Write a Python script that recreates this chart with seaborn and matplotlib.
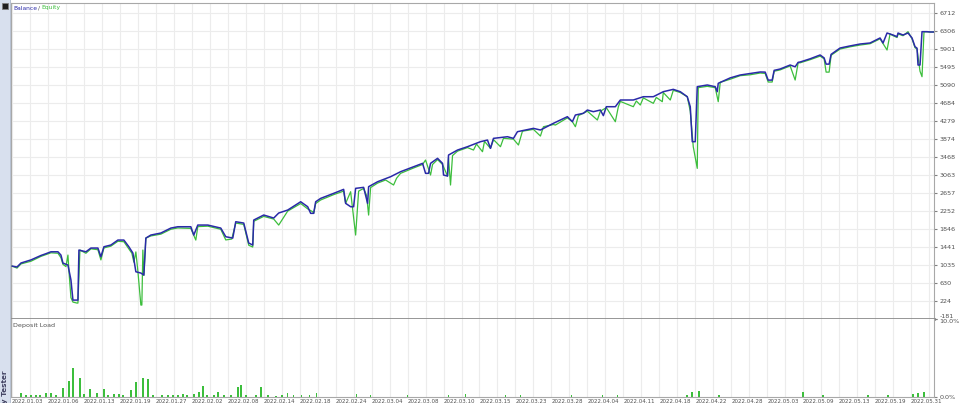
import matplotlib
matplotlib.use("Agg")
import matplotlib.pyplot as plt
import seaborn as sns
import pandas as pd
from matplotlib.patches import Rectangle

# Balance curve (deal index -> account value), 10 points per row
bal_x = [0, 5, 9, 19, 29, 34, 39, 46, 49, 51,
         56, 59, 61, 66, 67, 74, 79, 86, 89, 92,
         99, 106, 112, 117, 121, 124, 129, 132, 134, 139,
         149, 159, 166, 179, 182, 186, 196, 209, 214, 221,
         224, 232, 237, 241, 242, 252, 262, 267, 276, 289,
         296, 299, 302, 304, 309, 322, 332, 334, 339, 342,
         344, 352, 356, 357, 366, 379, 389, 402, 411, 414,
         417, 419, 426, 431, 432, 436, 437, 446, 456, 469,
         476, 479, 482, 496, 502, 506, 522, 529, 542, 556,
         561, 564, 572, 576, 582, 589, 592, 595, 604, 609,
         622, 632, 642, 652, 662, 669, 676, 679, 681, 684,
         686, 696, 704, 706, 707, 719, 729, 739, 749, 754,
         757, 761, 763, 769, 779, 784, 787, 789, 799, 809,
         813, 815, 818, 820, 829, 839, 849, 859, 869, 872,
         874, 876, 882, 886, 887, 892, 897, 901, 904, 906,
         907, 909, 911, 916, 919, 923]
bal_y = [1011, 990, 1080, 1150, 1250, 1290, 1333, 1333, 1259, 1079,
         1034, 700, 245, 245, 1372, 1333, 1417, 1417, 1221, 1446,
         1485, 1597, 1597, 1446, 1304, 883, 854, 809, 1642, 1710,
         1755, 1867, 1897, 1897, 1710, 1935, 1935, 1867, 1672, 1642,
         2010, 1980, 1530, 1485, 2048, 2161, 2093, 2206, 2273, 2460,
         2348, 2199, 2199, 2460, 2536, 2649, 2739, 2424, 2348, 2348,
         2762, 2784, 2424, 2799, 2911, 3024, 3137, 3249, 3325, 3100,
         3100, 3325, 3438, 3325, 3062, 3039, 3512, 3625, 3700, 3813,
         3850, 3663, 3888, 3925, 3888, 4038, 4113, 4076, 4227, 4376,
         4263, 4414, 4452, 4526, 4489, 4526, 4400, 4601, 4601, 4752,
         4752, 4826, 4826, 4939, 4992, 4939, 4826, 4601, 3813, 3813,
         5052, 5090, 5052, 4939, 5128, 5250, 5315, 5350, 5383, 5380,
         5200, 5200, 5420, 5450, 5540, 5500, 5600, 5608, 5680, 5766,
         5700, 5560, 5560, 5780, 5923, 5970, 6013, 6036, 6149, 6036,
         6149, 6261, 6216, 6178, 6261, 6216, 6261, 6149, 5953, 5920,
         5540, 5540, 6291, 6291, 6284, 6284]

# Equity curve
eq_x = [0, 5, 9, 19, 29, 34, 39, 46, 49, 51,
        54, 56, 57, 59, 61, 65, 66, 68, 74, 79,
        86, 89, 92, 99, 106, 112, 117, 120, 122, 124,
        126, 129, 130, 131, 132, 134, 139, 149, 159, 166,
        179, 184, 186, 196, 209, 214, 220, 224, 232, 237,
        241, 242, 252, 262, 267, 276, 289, 296, 301, 302,
        304, 309, 322, 332, 334, 339, 344, 347, 352, 355,
        357, 359, 366, 374, 382, 385, 389, 402, 411, 414,
        419, 421, 426, 431, 436, 437, 439, 441, 446, 456,
        462, 465, 471, 473, 479, 482, 489, 492, 502, 507,
        511, 522, 529, 532, 542, 544, 556, 561, 564, 567,
        576, 586, 589, 595, 604, 607, 609, 622, 625, 629,
        632, 642, 645, 651, 652, 659, 662, 669, 676, 679,
        682, 686, 687, 696, 704, 707, 709, 719, 729, 739,
        749, 754, 757, 761, 763, 769, 779, 784, 787, 789,
        799, 809, 813, 815, 818, 820, 829, 839, 849, 859,
        869, 876, 879, 882, 886, 887, 892, 897, 901, 904,
        906, 909, 911, 913, 919, 923]
eq_y = [1011, 966, 1060, 1120, 1230, 1270, 1310, 1300, 1200, 1050,
        1000, 1259, 900, 300, 200, 178, 178, 1372, 1300, 1400,
        1380, 1150, 1420, 1460, 1570, 1560, 1400, 1300, 1100, 1330,
        900, 133, 133, 1372, 800, 1642, 1690, 1730, 1840, 1870,
        1860, 1597, 1900, 1910, 1840, 1600, 1620, 1980, 1950, 1480,
        1440, 2020, 2130, 2070, 1935, 2250, 2420, 2300, 2235, 2199,
        2420, 2500, 2620, 2700, 2424, 2686, 1710, 2700, 2760, 2600,
        2160, 2780, 2880, 2950, 2837, 2990, 3100, 3220, 3300, 3400,
        3062, 3300, 3410, 3300, 3039, 3450, 2837, 3500, 3600, 3680,
        3625, 3760, 3587, 3820, 3663, 3860, 3700, 3890, 3870, 3738,
        4050, 4090, 3940, 4150, 4200, 4188, 4350, 4263, 4150, 4400,
        4500, 4301, 4500, 4580, 4263, 4600, 4720, 4601, 4730, 4639,
        4800, 4677, 4810, 4714, 4920, 4752, 4970, 4920, 4826, 4500,
        3700, 3212, 5030, 5060, 5030, 4714, 5150, 5220, 5300, 5320,
        5360, 5350, 5157, 5157, 5400, 5430, 5520, 5202, 5590, 5590,
        5660, 5740, 5680, 5380, 5380, 5760, 5900, 5950, 5990, 6020,
        6130, 5878, 6240, 6200, 6160, 6240, 6200, 6291, 6130, 5930,
        5900, 5400, 5277, 6291, 6284, 6284]

# Deposit load bars (deal index -> percent)
load_x = [9, 14, 19, 24, 28, 34, 39, 44, 51, 57,
          61, 68, 72, 78, 85, 92, 96, 102, 107, 111,
          119, 124, 131, 136, 141, 150, 156, 161, 166, 171,
          175, 182, 187, 191, 195, 202, 206, 212, 219, 226,
          229, 234, 244, 249, 256, 264, 270, 276, 282, 290,
          298, 305, 345, 359, 396, 437, 454, 494, 509, 560,
          591, 606, 676, 681, 688, 708, 792, 812, 857, 877,
          902, 907, 913]
load_y = [0.5, 0.3, 0.3, 0.3, 0.3, 0.5, 0.5, 0.2, 1.1, 2.0,
          3.7, 2.4, 0.4, 1.0, 0.5, 1.0, 0.2, 0.4, 0.4, 0.2,
          0.9, 1.9, 2.4, 2.3, 0.2, 0.2, 0.2, 0.2, 0.2, 0.4,
          0.2, 0.4, 0.7, 1.4, 0.2, 0.3, 0.7, 0.2, 0.3, 1.3,
          1.6, 0.2, 0.3, 1.3, 0.2, 0.1, 0.2, 0.5, 0.2, 0.2,
          0.2, 0.5, 0.35, 0.3, 0.3, 0.3, 0.35, 0.2, 0.2, 0.2,
          0.2, 0.2, 0.2, 0.6, 0.8, 0.2, 0.6, 0.2, 0.2, 0.2,
          0.4, 0.5, 0.6]

y_ticks = [6712, 6306, 5901, 5495, 5090, 4684, 4279, 3874, 3468, 3063, 2657, 2252, 1846,
           1441, 1035, 630, 224, -181]
date_labels = ["2022.01.03", "2022.01.06", "2022.01.13", "2022.01.19", "2022.01.27",
               "2022.02.02", "2022.02.08", "2022.02.14", "2022.02.18", "2022.02.24",
               "2022.03.04", "2022.03.08", "2022.03.10", "2022.03.15", "2022.03.23",
               "2022.03.28", "2022.04.04", "2022.04.11", "2022.04.18", "2022.04.22",
               "2022.04.28", "2022.05.03", "2022.05.09", "2022.05.13", "2022.05.19",
               "2022.05.31"]

BLUE = "#2a2aa8"
GREEN = "#3cbe3c"
GRID = "#ececec"
BORDER = "#a8a8a8"
TXT = "#505050"

sns.set_style("white")
plt.rcParams["font.family"] = ["DejaVu Sans"]

W, H = 960, 403
fig = plt.figure(figsize=(W / 100, H / 100), dpi=100)
fig.patch.set_facecolor("white")


def px_rect(x0, y0, x1, y1):
    return [x0 / W, 1 - y1 / H, (x1 - x0) / W, (y1 - y0) / H]


ax = fig.add_axes(px_rect(11, 3, 934, 319))
ax2 = fig.add_axes(px_rect(11, 319, 934, 397))

df_bal = pd.DataFrame({"deal": bal_x, "value": bal_y})
df_eq = pd.DataFrame({"deal": eq_x, "value": eq_y})
sns.lineplot(data=df_eq, x="deal", y="value", ax=ax, color=GREEN, lw=0.9, zorder=3)
sns.lineplot(data=df_bal, x="deal", y="value", ax=ax, color=BLUE, lw=1.1, zorder=4)

xgrid = list(range(0, 924, 18))
for a in (ax, ax2):
    a.set_xlim(-1, 923)
    a.set_xticks(xgrid)
    a.grid(axis="x", color=GRID, lw=0.8)
    a.set_axisbelow(True)
    a.set_xlabel("")
    a.set_ylabel("")
    for s in a.spines.values():
        s.set_color(BORDER)
        s.set_linewidth(0.8)

ax.set_ylim(-181, 6937)
ax.set_yticks(y_ticks)
ax.set_yticklabels([str(v) for v in y_ticks])
ax.grid(axis="y", color=GRID, lw=0.8)
ax.yaxis.tick_right()
ax.tick_params(axis="y", labelsize=4.6, colors="#808080", length=2, pad=2, labelcolor=TXT)
ax.get_yticklabels()[-1].set_va("bottom")
ax.tick_params(axis="x", length=0, labelbottom=False)
ax.spines["bottom"].set_color("#8c8c8c")
ax.spines["bottom"].set_linewidth(2)

fig.text(13 / W, 1 - 8 / H, "Balance", fontsize=4.3, color=BLUE, va="center")
fig.text(37.5 / W, 1 - 8 / H, "/", fontsize=4.3, color=TXT, va="center")
fig.text(41 / W, 1 - 8 / H, "Equity", fontsize=4.3, color=GREEN, va="center")

ax2.bar(load_x, load_y, width=1.6, color=GREEN, edgecolor="none")
ax2.set_ylim(0, 10)
ax2.set_yticks([0, 10])
ax2.set_yticklabels(["0.0%", "10.0%"])
ax2.yaxis.tick_right()
ax2.tick_params(axis="y", labelsize=4.6, colors="#808080", length=2, pad=2, labelcolor=TXT)
ax2.get_yticklabels()[-1].set_va("top")
ax2.set_xticklabels([date_labels[i // 2] if i % 2 == 0 and i // 2 < len(date_labels) else ""
                     for i in range(len(xgrid))], ha="left")
ax2.tick_params(axis="x", labelsize=4.0, length=1, pad=0.5, colors="#808080", labelcolor=TXT)
ax2.spines["top"].set_visible(False)
fig.text(13 / W, 1 - 325 / H, "Deposit Load", fontsize=4.6, color=TXT, va="center")

# left tab strip
fig.patches.append(Rectangle((0, 0), 10 / W, 1, transform=fig.transFigure,
                             facecolor="#d8e0ee", edgecolor="none", zorder=0))
fig.patches.append(Rectangle((10 / W, 0), 1 / W, 1, transform=fig.transFigure,
                             facecolor="#b8c2d2", edgecolor="none", zorder=0))
fig.patches.append(Rectangle((2 / W, 1 - 9 / H), 6 / W, 6 / H, transform=fig.transFigure,
                             facecolor="#202020", edgecolor="#808080", lw=0.6, zorder=2))
fig.text(5 / W, 1 - 370 / H, "Strategy Tester", rotation=90, ha="center", va="top",
         fontsize=5.2, fontweight="bold", color="#404060")

fig.savefig("out.png", dpi=100)
